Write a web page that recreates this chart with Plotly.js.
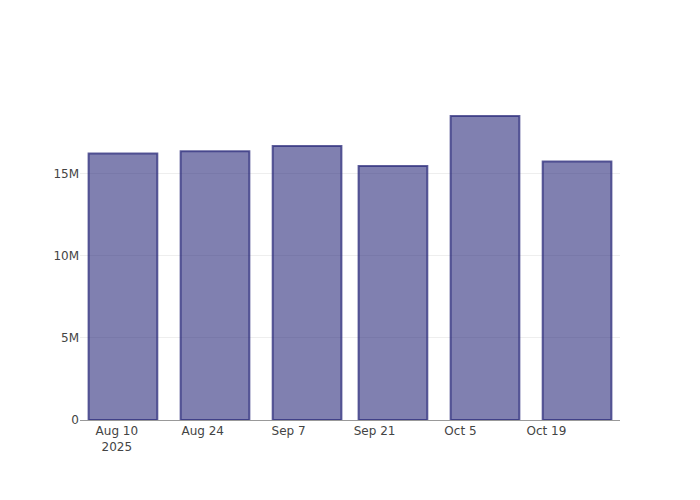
<!DOCTYPE html>
<html>
<head>
<meta charset="utf-8">
<script src="https://cdn.plot.ly/plotly-3.0.1.min.js"></script>
<style>html,body{margin:0;padding:0;background:#fff;}#chart{width:700px;height:500px;}</style>
</head>
<body>
<div id="chart"></div>
<script>
const dates = ["2025-08-11", "2025-08-26", "2025-09-10", "2025-09-24", "2025-10-09", "2025-10-24"];
const values = [16210000, 16340000, 16660000, 15450000, 18490000, 15730000];

const trace = {
  type: "bar",
  x: dates,
  y: values,
  marker: {
    color: "rgba(43,43,123,0.6)",
    line: {color: "rgba(43,43,123,0.75)", width: 2}
  }
};

const layout = {
  width: 700,
  height: 500,
  margin: {l: 80, r: 80, t: 100, b: 80},
  paper_bgcolor: "#fff",
  plot_bgcolor: "#fff",
  font: {family: "\"DejaVu Sans\", verdana, sans-serif", size: 12, color: "#444"},
  showlegend: false,
  xaxis: {
    type: "date",
    showgrid: false,
    showline: true,
    linecolor: "#999",
    linewidth: 1,
    ticks: "",
    dtick: 14 * 24 * 3600 * 1000,
    tick0: "2025-08-10"
  },
  yaxis: {
    showgrid: true,
    gridcolor: "#eee",
    zeroline: false,
    showline: false,
    ticks: "",
    dtick: 5000000
  }
};

Plotly.newPlot("chart", [trace], layout, {displayModeBar: false});
</script>
</body>
</html>
